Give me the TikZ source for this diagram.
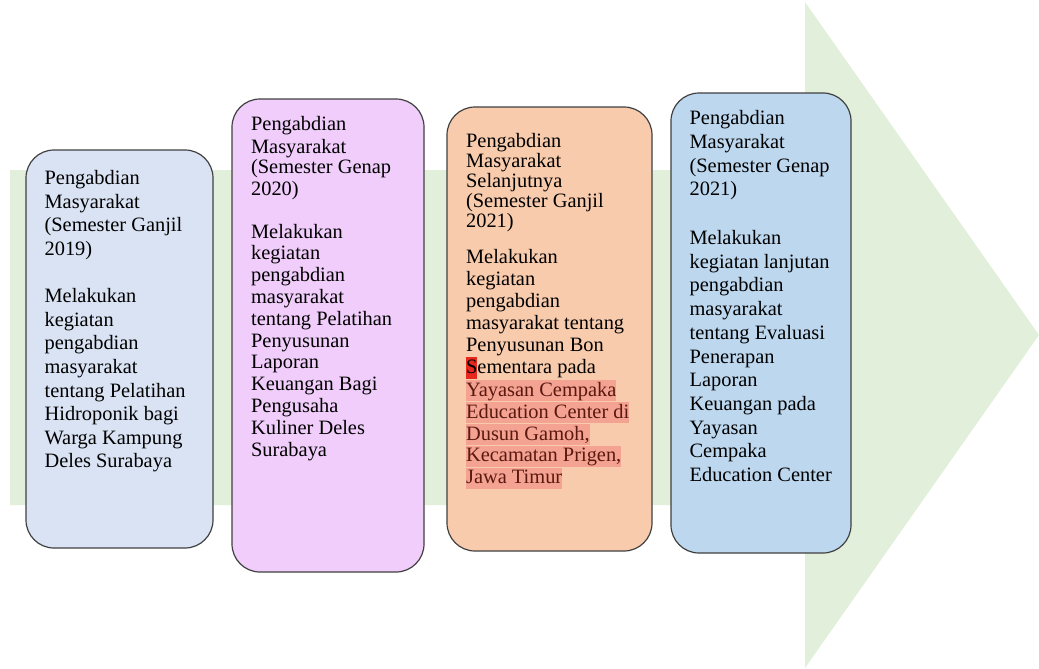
\documentclass[tikz,border=0pt]{standalone}
\usepackage{fontspec}
\setmainfont{Liberation Serif}
\usepackage{xcolor}
\usetikzlibrary{positioning}

\definecolor{flowgreen}{RGB}{226,239,218}
\definecolor{stageA}{RGB}{218,227,243}
\definecolor{stageB}{RGB}{240,205,250}
\definecolor{stageC}{RGB}{248,203,173}
\definecolor{stageD}{RGB}{189,215,238}
\definecolor{rimgray}{RGB}{64,64,64}
\definecolor{selbg}{RGB}{244,162,146}
\definecolor{selmark}{RGB}{232,40,28}
\definecolor{seltext}{RGB}{90,25,15}

% marked (selected) text lines in the third box
\newcommand{\selrow}[1]{{\setlength{\fboxsep}{0pt}\colorbox{selbg}{\rule[-5pt]{0pt}{21pt}\color{seltext}#1}}}
\newcommand{\selchar}[1]{{\setlength{\fboxsep}{0pt}\colorbox{selmark}{\rule[-6pt]{0pt}{22pt}#1}}}

\begin{document}
\begin{tikzpicture}[
    x=1pt, y=-1pt,
    stage/.style={rectangle, draw=rimgray, line width=1.2pt, rounded corners=28pt},
    note/.style={inner sep=0pt, align=left, anchor=north west},
    flow/.style={fill=flowgreen}
]
    \useasboundingbox (0,0) rectangle (1039,669);

    % big arrow in the background
    \fill[flow] (10,170) -- (805,170) -- (805,2) -- (1039,335)
        -- (805,668) -- (805,505) -- (10,505) -- cycle;

    % stages
    \node[stage, fill=stageA, minimum width=187pt, minimum height=398pt] (s2019) at (119.5,349) {};
    \node[stage, fill=stageB, minimum width=192pt, minimum height=473pt] (s2020) at (328,335.5) {};
    \node[stage, fill=stageC, minimum width=205pt, minimum height=444pt] (s2021a) at (549.5,329) {};
    \node[stage, fill=stageD, minimum width=180pt, minimum height=460pt] (s2021b) at (761,323) {};

    \node[note, font=\fontsize{20.4}{23.6}\selectfont, below right=21pt and 19pt of s2019.north west] (t2019)
        {Pengabdian\\Masyarakat\\(Semester Ganjil\\2019)\\[23.6pt]
         Melakukan\\kegiatan\\pengabdian\\masyarakat\\tentang Pelatihan\\Hidroponik bagi\\Warga Kampung\\Deles Surabaya};
    \node[note, font=\fontsize{20.4}{21.8}\selectfont, below right=18pt and 19.5pt of s2020.north west] (t2020)
        {Pengabdian\\[0.6pt]Masyarakat\\[-1.6pt](Semester Genap\\2020)\\[21.2pt]
         Melakukan\\kegiatan\\pengabdian\\masyarakat\\tentang Pelatihan\\Penyusunan\\Laporan\\Keuangan Bagi\\Pengusaha\\Kuliner Deles\\Surabaya};
    \node[note, font=\fontsize{20.4}{21.9}\selectfont, below right=27pt and 19.5pt of s2021a.north west] (t2021a)
        {Pengabdian\\[-1.9pt]Masyarakat\\[-1.9pt]Selanjutnya\\[-1.9pt](Semester Ganjil\\[-1.9pt]2021)\\[14.1pt]
         Melakukan\\kegiatan\\pengabdian\\masyarakat tentang\\Penyusunan Bon\\\selchar{S}ementara pada\\
         \selrow{Yayasan Cempaka}\\\selrow{Education Center di}\\\selrow{Dusun Gamoh,}\\
         \selrow{Kecamatan Prigen,}\\\selrow{Jawa Timur}};
    \node[note, font=\fontsize{20.4}{23.7}\selectfont, below right=18pt and 19pt of s2021b.north west] (t2021b)
        {Pengabdian\\Masyarakat\\(Semester Genap\\2021)\\[25pt]
         Melakukan\\kegiatan lanjutan\\pengabdian\\masyarakat\\tentang Evaluasi\\Penerapan\\Laporan\\Keuangan pada\\Yayasan\\Cempaka\\Education Center};
\end{tikzpicture}
\end{document}
